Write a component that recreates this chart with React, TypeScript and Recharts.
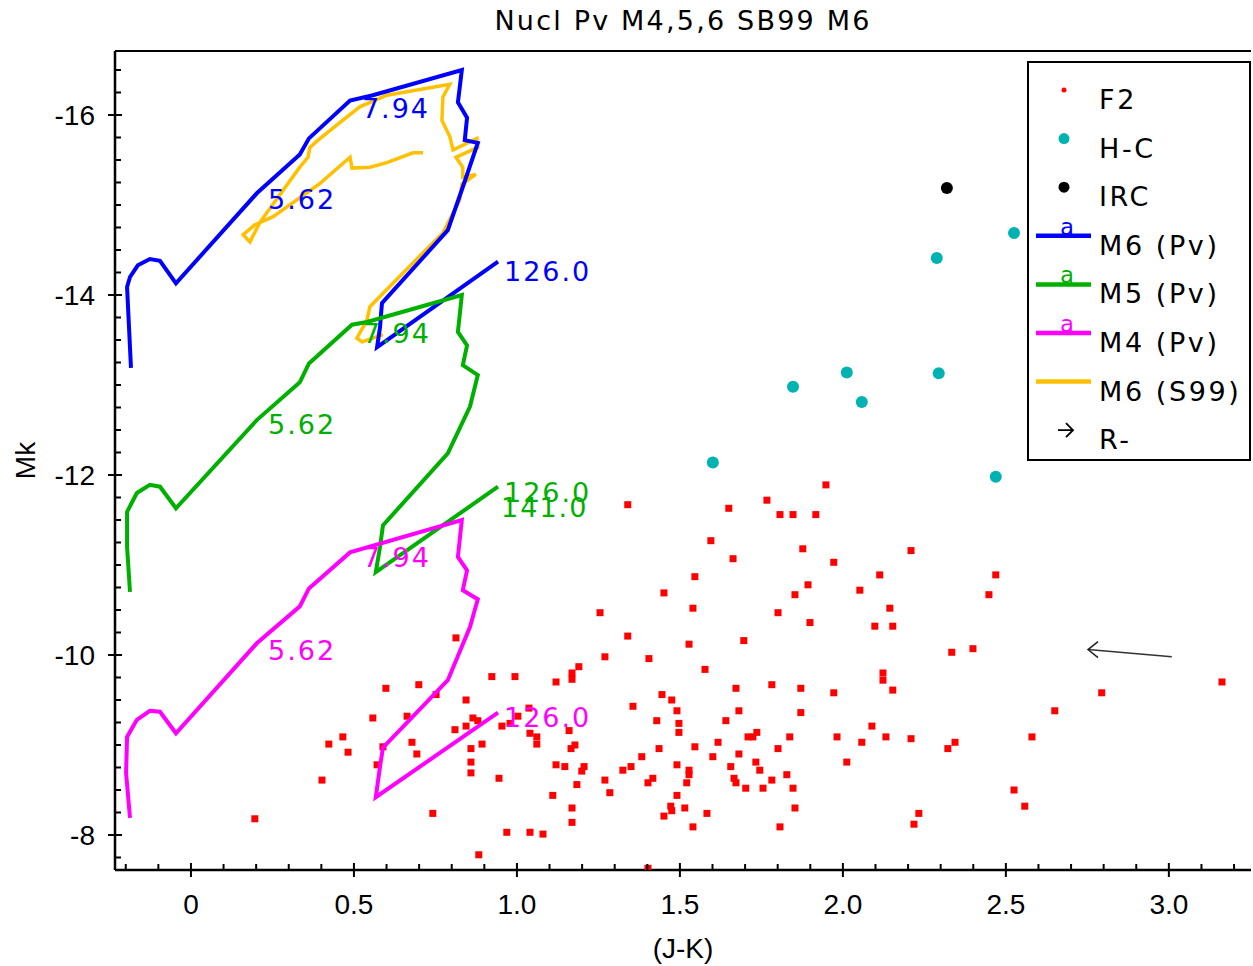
import { ScatterChart, Scatter, XAxis, YAxis, ReferenceLine, Legend } from "recharts";

// F2 cluster stars, [J-K, Mk]
const f2Stars: [number, number][] = [
  [1.948, -11.89], [1.34, -11.67], [1.65, -11.63], [1.767, -11.72], [1.807, -11.56], [1.847, -11.56],
  [1.917, -11.56], [1.595, -11.27], [1.663, -11.07], [1.877, -11.18], [2.209, -11.16], [1.972, -11.03],
  [1.546, -10.87], [2.113, -10.89], [2.469, -10.89], [1.451, -10.69], [1.54, -10.52], [1.893, -10.78],
  [1.853, -10.67], [2.052, -10.72], [2.448, -10.67], [2.144, -10.52], [1.801, -10.47], [1.255, -10.47],
  [1.899, -10.36], [2.098, -10.32], [2.153, -10.32], [1.34, -10.21], [1.528, -10.12], [1.696, -10.16],
  [1.27, -9.98], [1.405, -9.96], [2.334, -10.03], [2.399, -10.07], [1.577, -9.84], [1.19, -9.87],
  [1.169, -9.8], [1.169, -9.73], [1.12, -9.7], [2.123, -9.8], [2.123, -9.72], [0.923, -9.76],
  [0.994, -9.76], [1.672, -9.63], [1.782, -9.67], [1.871, -9.63], [1.972, -9.58], [2.153, -9.61],
  [2.794, -9.58], [3.163, -9.7], [1.445, -9.56], [1.475, -9.5], [1.356, -9.43], [1.491, -9.38],
  [1.681, -9.38], [1.871, -9.36], [2.65, -9.38], [1.037, -9.41], [0.598, -9.63], [0.699, -9.67],
  [0.752, -9.56], [0.813, -10.19], [0.844, -9.5], [0.558, -9.3], [0.663, -9.32], [0.865, -9.3],
  [0.88, -9.27], [0.954, -9.21], [0.979, -9.24], [1.003, -9.32], [1.04, -9.13], [1.061, -9.09],
  [1.061, -9.01], [1.16, -9.16], [1.429, -9.27], [1.641, -9.27], [1.497, -9.24], [1.497, -9.14],
  [1.724, -9.09], [1.736, -9.14], [1.709, -9.09], [1.837, -9.09], [1.982, -9.09], [2.132, -9.09],
  [2.209, -9.07], [2.089, -9.21], [2.058, -9.03], [2.344, -9.03], [2.322, -8.96], [2.58, -9.09],
  [1.617, -9.03], [1.546, -8.98], [1.436, -8.96], [1.383, -8.87], [1.178, -9.0], [1.166, -8.96],
  [1.801, -8.96], [1.681, -8.9], [1.601, -8.87], [1.491, -8.78], [1.528, -8.72], [1.528, -8.67],
  [1.656, -8.76], [1.733, -8.81], [1.745, -8.72], [1.828, -8.67], [1.847, -8.52], [1.782, -8.61],
  [1.755, -8.52], [1.702, -8.52], [1.672, -8.58], [1.666, -8.63], [2.012, -8.81], [1.12, -8.78],
  [1.147, -8.76], [1.206, -8.76], [1.199, -8.71], [1.325, -8.72], [1.35, -8.76], [1.417, -8.63],
  [1.402, -8.58], [1.521, -8.58], [1.27, -8.61], [1.285, -8.47], [1.184, -8.56], [1.491, -8.44],
  [1.11, -8.44], [1.472, -8.32], [1.475, -8.27], [1.451, -8.21], [1.515, -8.3], [1.583, -8.24],
  [1.54, -8.09], [1.807, -8.09], [1.853, -8.3], [2.525, -8.5], [2.558, -8.32], [2.233, -8.24],
  [2.218, -8.12], [1.169, -8.3], [1.169, -8.14], [0.969, -8.03], [1.04, -8.03], [1.08, -8.01],
  [0.883, -7.78], [1.402, -7.63], [0.742, -8.24], [0.945, -8.63], [0.893, -9.01], [0.859, -8.96],
  [0.859, -8.81], [0.859, -8.69], [0.81, -9.17], [0.678, -9.03], [0.693, -8.9], [0.589, -8.98],
  [0.571, -8.78], [0.466, -9.09], [0.423, -9.01], [0.482, -8.92], [0.402, -8.61], [0.196, -8.18],
  [0.844, -9.21],
];

const hcStars: [number, number][] = [
  [2.525, -14.69], [2.288, -14.41], [2.012, -13.14], [1.847, -12.98],
  [2.294, -13.13], [2.058, -12.81], [1.601, -12.14], [2.469, -11.98],
];

const ircStars: [number, number][] = [[2.319, -15.19]];

// Padova tracks
const m6Pv: [number, number][] = [
  [-0.184, -13.19], [-0.196, -14.09], [-0.187, -14.2], [-0.163, -14.33], [-0.126, -14.4], [-0.095, -14.38],
  [-0.046, -14.13], [0.202, -15.13], [0.334, -15.56], [0.362, -15.74], [0.488, -16.16], [0.558, -16.22],
  [0.831, -16.5], [0.819, -16.14], [0.847, -15.97], [0.84, -15.72], [0.88, -15.69], [0.834, -15.2],
  [0.788, -14.72], [0.586, -13.91], [0.58, -13.64], [0.571, -13.42], [0.942, -14.37],
];

const m5Pv: [number, number][] = [
  [-0.187, -10.7], [-0.196, -11.2], [-0.196, -11.59], [-0.166, -11.8], [-0.126, -11.89], [-0.095, -11.87],
  [-0.046, -11.63], [0.202, -12.61], [0.334, -13.03], [0.362, -13.24], [0.494, -13.67], [0.54, -13.7],
  [0.831, -14.0], [0.819, -13.59], [0.847, -13.44], [0.834, -13.22], [0.88, -13.11], [0.856, -12.76],
  [0.788, -12.24], [0.589, -11.44], [0.58, -11.2], [0.567, -10.92], [0.942, -11.87],
];

const m4Pv: [number, number][] = [
  [-0.187, -8.19], [-0.199, -8.69], [-0.196, -9.09], [-0.166, -9.28], [-0.126, -9.38], [-0.095, -9.37],
  [-0.046, -9.13], [0.202, -10.13], [0.334, -10.54], [0.362, -10.74], [0.488, -11.14], [0.831, -11.5],
  [0.819, -11.09], [0.847, -10.94], [0.834, -10.72], [0.88, -10.62], [0.856, -10.31], [0.788, -9.72],
  [0.589, -8.97], [0.58, -8.76], [0.567, -8.42], [0.942, -9.36],
];

// Starburst99 track
const m6S99: [number, number][] = [
  [0.712, -15.58], [0.681, -15.58], [0.601, -15.47], [0.549, -15.42], [0.494, -15.41], [0.488, -15.53],
  [0.396, -15.24], [0.252, -14.87], [0.196, -14.78], [0.16, -14.67], [0.181, -14.59], [0.212, -14.81],
  [0.334, -15.42], [0.359, -15.53], [0.365, -15.64], [0.39, -15.72], [0.448, -15.89], [0.518, -16.09],
  [0.601, -16.22], [0.794, -16.34], [0.773, -16.2], [0.77, -15.94], [0.794, -15.76], [0.804, -15.61],
  [0.877, -15.74], [0.88, -15.64], [0.813, -15.53], [0.834, -15.42], [0.834, -15.31], [0.874, -15.34],
  [0.831, -15.23], [0.825, -15.06], [0.773, -14.69], [0.712, -14.47], [0.549, -13.87], [0.54, -13.72],
  [0.509, -13.52], [0.525, -13.48], [0.589, -13.56],
];

// reddening vector, tip first
const reddening: [number, number][] = [[2.752, -10.06], [3.009, -9.98]];

// age labels (Myr) on the tracks
const m6Ages: [number, number, string][] = [[0.218, -15.17, "5.62"], [0.506, -16.18, "7.94"], [0.942, -14.37, "126.0"]];
const m5Ages: [number, number, string][] = [
  [0.218, -12.67, "5.62"], [0.509, -13.68, "7.94"], [0.942, -11.91, "126.0"], [0.933, -11.74, "141.0"],
];
const m4Ages: [number, number, string][] = [[0.218, -10.16, "5.62"], [0.509, -11.19, "7.94"], [0.942, -9.41, "126.0"]];

const xTicks = [
  -0.2, -0.1, 0, 0.1, 0.2, 0.3, 0.4, 0.5, 0.6, 0.7, 0.8, 0.9, 1, 1.1, 1.2, 1.3, 1.4, 1.5, 1.6, 1.7, 1.8,
  1.9, 2, 2.1, 2.2, 2.3, 2.4, 2.5, 2.6, 2.7, 2.8, 2.9, 3, 3.1, 3.2,
];
const xTickLabels: Record<string, string> = { "0": "0", "0.5": "0.5", "1": "1.0", "1.5": "1.5", "2": "2.0", "2.5": "2.5", "3": "3.0" };
const yTicks = [
  -16.5, -16.25, -16, -15.75, -15.5, -15.25, -15, -14.75, -14.5, -14.25, -14, -13.75, -13.5, -13.25, -13,
  -12.75, -12.5, -12.25, -12, -11.75, -11.5, -11.25, -11, -10.75, -10.5, -10.25, -10, -9.75, -9.5, -9.25,
  -9, -8.75, -8.5, -8.25, -8, -7.75,
];
const yTickLabels: Record<string, string> = { "-16": "-16", "-14": "-14", "-12": "-12", "-10": "-10", "-8": "-8" };

const X_DOMAIN: [number, number] = [-0.233, 3.252];
const Y_DOMAIN: [number, number] = [-16.711, -7.611];

const BLUE = "#0000ff";
const GREEN = "#00b000";
const MAGENTA = "#ff00ff";
const YELLOW = "#ffc000";
const CYAN = "#00b2b2";

const toPoints = (rows: [number, number][]) => rows.map(([jk, mk]) => ({ jk, mk }));
const toAges = (rows: [number, number, string][]) => rows.map(([jk, mk, age]) => ({ jk, mk, age }));

const tickFont = { fontFamily: "Liberation Sans, Arial, sans-serif", fontSize: 28, fill: "#000" };
const labelFont = "DejaVu Sans, sans-serif";

const XTick = (props: any) => {
  const { x, y, payload } = props;
  const label = xTickLabels[String(payload.value)];
  return (
    <g>
      <line x1={x} x2={x} y1={label ? y - 7 : y - 6} y2={label ? y + 7 : y} stroke="#000" strokeWidth={2} />
      {label && (
        <text x={x} y={y + 44} textAnchor="middle" {...tickFont}>
          {label}
        </text>
      )}
    </g>
  );
};

const YTick = (props: any) => {
  const { x, y, payload } = props;
  const label = yTickLabels[String(payload.value)];
  return (
    <g>
      <line x1={label ? x - 7 : x} x2={label ? x + 7 : x + 6} y1={y} y2={y} stroke="#000" strokeWidth={2} />
      {label && (
        <text x={x - 20} y={y + 10} textAnchor="end" {...tickFont}>
          {label}
        </text>
      )}
    </g>
  );
};

const noMark = () => <g />;

const redSquare = (p: any) => <rect x={p.cx - 3.5} y={p.cy - 3.5} width={7} height={7} fill="#ff0000" />;
const dot = (color: string) => (p: any) => <circle cx={p.cx} cy={p.cy} r={6} fill={color} />;

const ageText = (color: string) => (p: any) => (
  <text
    x={p.cx + 6}
    y={p.cy + 19}
    fill={color}
    fontFamily={labelFont}
    fontSize={27}
    letterSpacing={2}
  >
    {p.payload.age}
  </text>
);

const arrowHead = (p: any) =>
  p.payload.jk === reddening[0][0] ? (
    <path d={`M${p.cx + 10},${p.cy - 8} L${p.cx},${p.cy} L${p.cx + 10},${p.cy + 8}`} fill="none" stroke="#222" strokeWidth={1.5} />
  ) : (
    <g />
  );

const legendRows = [
  { name: "F2", kind: "dot", color: "#ff0000", r: 2.5 },
  { name: "H-C", kind: "dot", color: CYAN, r: 5.5 },
  { name: "IRC", kind: "dot", color: "#000", r: 5.5 },
  { name: "M6 (Pv)", kind: "line", color: BLUE, marker: true },
  { name: "M5 (Pv)", kind: "line", color: GREEN, marker: true },
  { name: "M4 (Pv)", kind: "line", color: MAGENTA, marker: true },
  { name: "M6 (S99)", kind: "line", color: YELLOW, marker: false },
  { name: "R-", kind: "arrow", color: "#000" },
];

const LegendBox = () => (
  <svg width={224} height={400} style={{ display: "block" }}>
    <rect x={1} y={1} width={222} height={398} fill="#fff" stroke="#000" strokeWidth={2} />
    {legendRows.map((row, i) => {
      const cy = 38 + i * 48.6;
      const sy = cy - 9;
      return (
        <g key={row.name}>
          {row.kind === "dot" && <circle cx={37} cy={sy} r={row.r} fill={row.color} />}
          {row.kind === "line" && (
            <g>
              <line x1={9} x2={64} y1={sy} y2={sy} stroke={row.color} strokeWidth={4.5} />
              {row.marker && (
                <text
                  x={40}
                  y={sy - 1}
                  textAnchor="middle"
                  fill={row.color}
                  fontFamily="DejaVu Sans Mono, monospace"
                  fontSize={23}
                >
                  a
                </text>
              )}
            </g>
          )}
          {row.kind === "arrow" && (
            <path d={`M39,${sy - 7} L46,${sy} L39,${sy + 7} M31,${sy} L46,${sy}`} fill="none" stroke="#000" strokeWidth={1.8} />
          )}
          <text x={72} y={cy + 10} fontFamily={labelFont} fontSize={27} letterSpacing={2.6} fill="#000">
            {row.name}
          </text>
        </g>
      );
    })}
  </svg>
);

export default function App() {
  return (
    <div style={{ position: "absolute", left: 0, top: 0, width: 1253, height: 966, background: "#fff" }}>
      <div
        style={{
          position: "absolute",
          left: 115,
          top: 5,
          width: 1136,
          textAlign: "center",
          fontFamily: labelFont,
          fontSize: 27,
          letterSpacing: 2.2,
          color: "#000",
        }}
      >
        Nucl Pv M4,5,6 SB99 M6
      </div>
      <ScatterChart width={1253} height={966} margin={{ top: 51, right: 2, bottom: 0, left: 0 }}>
        <XAxis
          type="number"
          dataKey="jk"
          domain={X_DOMAIN}
          allowDataOverflow
          ticks={xTicks}
          interval={0}
          tick={XTick}
          tickLine={false}
          tickSize={0}
          tickMargin={0}
          height={96}
          axisLine={{ stroke: "#000", strokeWidth: 2.5 }}
          label={{
            content: (p: any) => (
              <text x={p.viewBox.x + p.viewBox.width / 2} y={p.viewBox.y + 88} textAnchor="middle" {...tickFont}>
                (J-K)
              </text>
            ),
          }}
        />
        <YAxis
          type="number"
          dataKey="mk"
          domain={Y_DOMAIN}
          reversed
          allowDataOverflow
          ticks={yTicks}
          interval={0}
          tick={YTick}
          tickLine={false}
          tickSize={0}
          tickMargin={0}
          width={115}
          axisLine={{ stroke: "#000", strokeWidth: 2.5 }}
          label={{
            content: (p: any) => {
              const cx = p.viewBox.x + 25;
              const cy = p.viewBox.y + p.viewBox.height / 2;
              return (
                <text x={cx} y={cy} transform={`rotate(-90 ${cx} ${cy})`} textAnchor="middle" dominantBaseline="central" {...tickFont}>
                  Mk
                </text>
              );
            },
          }}
        />
        <ReferenceLine y={Y_DOMAIN[0]} stroke="#000" strokeWidth={2} />
        <Legend
          layout="horizontal"
          verticalAlign="middle"
          align="center"
          content={() => <LegendBox />}
          wrapperStyle={{ position: "absolute", left: 1027, top: 61, width: 224, height: 400 }}
        />

        <Scatter name="F2" data={toPoints(f2Stars)} shape={redSquare} isAnimationActive={false} />
        <Scatter name="H-C" data={toPoints(hcStars)} shape={dot(CYAN)} isAnimationActive={false} />
        <Scatter name="IRC" data={toPoints(ircStars)} shape={dot("#000")} isAnimationActive={false} />

        <Scatter name="M6 (S99)" data={toPoints(m6S99)} line={{ stroke: YELLOW, strokeWidth: 3.5 }} shape={noMark} isAnimationActive={false} />
        <Scatter name="M6 (Pv)" data={toPoints(m6Pv)} line={{ stroke: BLUE, strokeWidth: 4 }} shape={noMark} isAnimationActive={false} />
        <Scatter name="M5 (Pv)" data={toPoints(m5Pv)} line={{ stroke: GREEN, strokeWidth: 4 }} shape={noMark} isAnimationActive={false} />
        <Scatter name="M4 (Pv)" data={toPoints(m4Pv)} line={{ stroke: MAGENTA, strokeWidth: 4 }} shape={noMark} isAnimationActive={false} />

        <Scatter data={toAges(m6Ages)} shape={ageText(BLUE)} isAnimationActive={false} />
        <Scatter data={toAges(m5Ages)} shape={ageText(GREEN)} isAnimationActive={false} />
        <Scatter data={toAges(m4Ages)} shape={ageText(MAGENTA)} isAnimationActive={false} />

        <Scatter name="R-" data={toPoints(reddening)} line={{ stroke: "#333", strokeWidth: 1.5 }} shape={arrowHead} isAnimationActive={false} />
      </ScatterChart>
    </div>
  );
}
